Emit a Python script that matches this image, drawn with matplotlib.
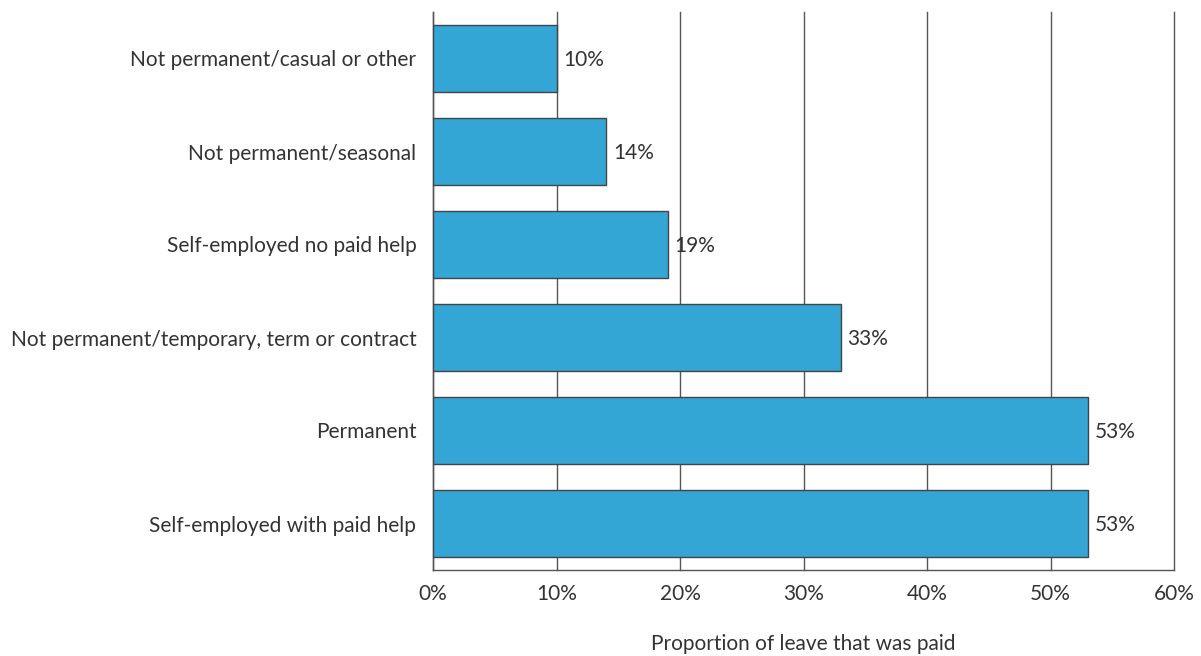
import matplotlib.pyplot as plt

# Paid leave share by employment type
categories = [
    'Self-employed with paid help',
    'Permanent',
    'Not permanent/temporary, term or contract',
    'Self-employed no paid help',
    'Not permanent/seasonal',
    'Not permanent/casual or other',
]
values = [53, 53, 33, 19, 14, 10]
xticks = [0, 10, 20, 30, 40, 50, 60]

plt.rcParams['font.family'] = ['Lato', 'DejaVu Sans']
text_color = '#333333'
fs = 15

fig = plt.figure(figsize=(12.01, 6.56), dpi=100)
ax = fig.add_axes([433 / 1201, 1 - 570 / 656, (1174 - 433) / 1201, (570 - 12) / 656])

ax.barh(range(len(categories)), values, height=0.72, color='#33a6d5',
        edgecolor='#444444', linewidth=1.0, zorder=3)

for i, v in enumerate(values):
    ax.annotate(f'{v}%', (v, i), xytext=(5, -1), textcoords='offset points',
                va='center', ha='left', fontsize=fs, color=text_color)

ax.set_xlim(0, 60)
ax.set_ylim(-0.5, len(categories) - 0.5)
ax.set_xticks(xticks)
ax.set_xticklabels([f'{t}%' for t in xticks], fontsize=fs, color=text_color)
ax.set_yticks(range(len(categories)))
ax.set_yticklabels(categories, fontsize=fs, color=text_color)
ax.tick_params(axis='both', length=0)
ax.tick_params(axis='x', pad=10)
ax.tick_params(axis='y', pad=12)

ax.grid(axis='x', color='#555555', linewidth=1.0, zorder=0)
for line in ax.get_xgridlines():
    line.set_clip_on(False)
ax.set_axisbelow(True)
for side in ['top', 'right']:
    ax.spines[side].set_visible(False)
for side in ['left', 'bottom']:
    ax.spines[side].set_color('#555555')
    ax.spines[side].set_linewidth(1.0)

ax.set_xlabel('Proportion of leave that was paid', fontsize=fs,
              color=text_color, labelpad=22)

fig.savefig('out.png', dpi=100)
